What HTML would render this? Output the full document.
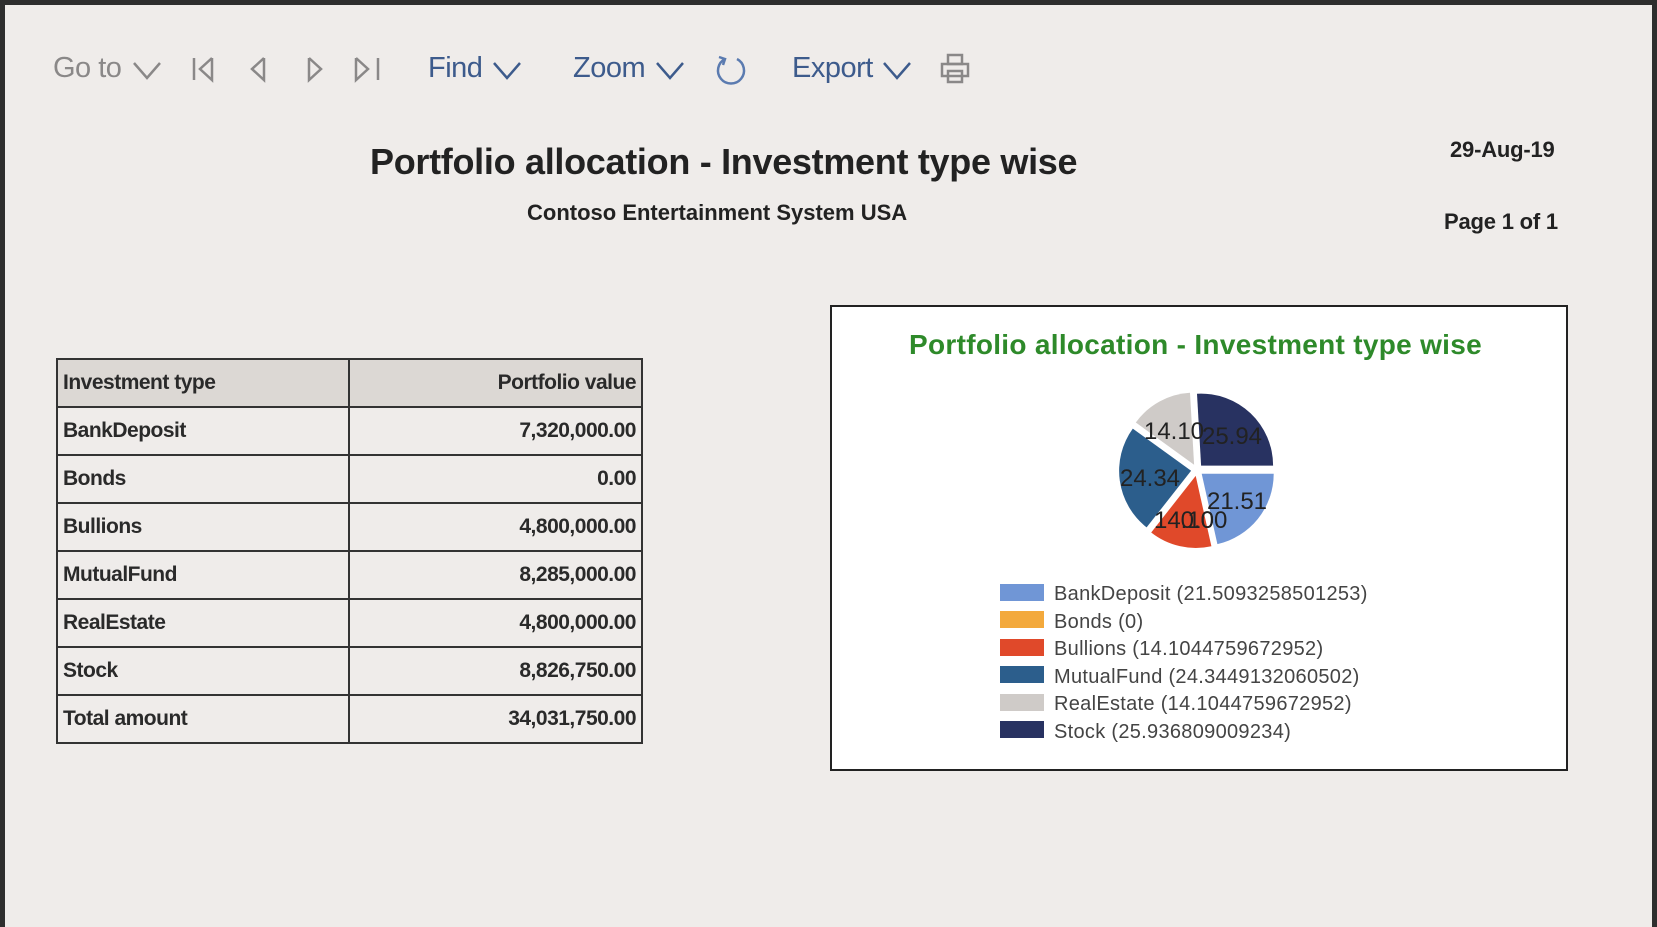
<!DOCTYPE html>
<html><head><meta charset="utf-8"><style>
body{margin:0;width:1657px;height:927px;background:#2e2e2e;overflow:hidden;font-family:"Liberation Sans",sans-serif;position:relative}
#pg{position:absolute;left:5px;top:5px;width:1647px;height:922px;background:#efecea}
.a{position:absolute;white-space:nowrap}
.tb{font-size:29px;top:52px;letter-spacing:-0.5px}
table{position:absolute;left:56px;top:358px;border-collapse:collapse;font-size:21px;font-weight:bold;color:#2a2a2a;letter-spacing:-0.5px}
td{border:2.5px solid #333;height:46px;padding:0 5px}
td:first-child{width:280px}td:last-child{width:281px;text-align:right}
tr.h td{background:#dcd8d4}
</style></head><body><div id="pg"></div>
<div class="a tb" style="left:53px;color:#8a8888">Go to</div>
<div class="a tb" style="left:428px;color:#3d5b8c">Find</div>
<div class="a tb" style="left:573px;color:#3d5b8c">Zoom</div>
<div class="a tb" style="left:792px;color:#3d5b8c">Export</div>
<svg class="a" style="left:0;top:0" width="1000" height="100" fill="none" stroke-width="2.5">
<g stroke="#8a8888">
<polyline points="134,63 147,78 160,63"/>
<line x1="194" y1="58" x2="194" y2="80"/><polyline points="212,58 200,69 212,80 212,58"/>
<polyline points="264,58 252,69 264,80 264,58"/>
<polyline points="309,58 321,69 309,80 309,58"/>
<polyline points="356,58 368,69 356,80 356,58"/><line x1="378" y1="58" x2="378" y2="80"/>
</g>
<g stroke="#3d5b8c">
<polyline points="494,63 507,78 520,63"/>
<polyline points="657,63 670,78 683,63"/>
<polyline points="884,63 897,78 910,63"/>
</g>
</svg>
<svg class="a" style="left:713px;top:53px" width="36" height="36" fill="none" stroke="#5b7bb0" stroke-width="2.5"><path d="M12 6 A13 13 0 1 0 24 6"/><polyline points="6,4 12,6 10,12"/></svg>
<svg class="a" style="left:940px;top:53px" width="30" height="32" fill="none" stroke="#8a8888" stroke-width="2.5"><rect x="8" y="2" width="14" height="9"/><rect x="2" y="11" width="26" height="12"/><rect x="8" y="18" width="14" height="11"/></svg>
<div class="a" style="left:370px;top:141px;font-size:36px;font-weight:bold;color:#222;letter-spacing:-0.3px">Portfolio allocation - Investment type wise</div>
<div class="a" style="left:527px;top:200px;font-size:22px;font-weight:bold;color:#222;letter-spacing:0px">Contoso Entertainment System USA</div>
<div class="a" style="left:1450px;top:137px;font-size:22px;font-weight:bold;color:#222;letter-spacing:-0.2px">29-Aug-19</div>
<div class="a" style="left:1444px;top:209px;font-size:22px;font-weight:bold;color:#222;letter-spacing:-0.2px">Page 1 of 1</div>
<table>
<tr class="h"><td>Investment type</td><td>Portfolio value</td></tr>
<tr><td>BankDeposit</td><td>7,320,000.00</td></tr>
<tr><td>Bonds</td><td>0.00</td></tr>
<tr><td>Bullions</td><td>4,800,000.00</td></tr>
<tr><td>MutualFund</td><td>8,285,000.00</td></tr>
<tr><td>RealEstate</td><td>4,800,000.00</td></tr>
<tr><td>Stock</td><td>8,826,750.00</td></tr>
<tr><td>Total amount</td><td>34,031,750.00</td></tr>
</table>
<div class="a" style="left:830px;top:305px;width:734px;height:462px;background:#fff;border:2.5px solid #222"></div>
<div class="a" style="left:909px;top:329px;font-size:28px;font-weight:bold;color:#2e8a2a;letter-spacing:0.3px">Portfolio allocation - Investment type wise</div>
<svg class="a" style="left:0;top:0" width="1657" height="927">
<path d="M1201.7,473.8 L1273.7,473.8 A72,72 0 0 1 1217.4,544.1 Z" fill="#7096d6"/>
<path d="M1195.7,475.9 L1211.4,546.2 A72,72 0 0 1 1151.2,532.5 Z" fill="#e0492a"/>
<path d="M1191.1,470.8 L1146.6,527.4 A72,72 0 0 1 1132.8,428.6 Z" fill="#2c5e8c"/>
<path d="M1194.1,464.7 L1135.8,422.5 A72,72 0 0 1 1190,392.8 Z" fill="#cfcbc8"/>
<path d="M1201.1,465.6 L1197,393.7 A72,72 0 0 1 1273.1,465.6 Z" fill="#283261"/>
<g font-size="24" fill="#222" text-anchor="middle" font-family="Liberation Sans">
<text x="1174" y="439">14.10</text><text x="1232" y="444">25.94</text>
<text x="1150" y="486">24.34</text><text x="1237" y="509">21.51</text>
<text x="1184" y="528">14.10</text><text x="1204" y="528">0.00</text>
</g>
<g font-size="20" fill="#444" font-family="Liberation Sans" letter-spacing="0.3">
<rect x="1000" y="584" width="44" height="17" fill="#7096d6"/><text x="1054" y="600">BankDeposit (21.5093258501253)</text>
<rect x="1000" y="611" width="44" height="17" fill="#f3a93c"/><text x="1054" y="628">Bonds (0)</text>
<rect x="1000" y="639" width="44" height="17" fill="#e0492a"/><text x="1054" y="655">Bullions (14.1044759672952)</text>
<rect x="1000" y="666" width="44" height="17" fill="#2c5e8c"/><text x="1054" y="683">MutualFund (24.3449132060502)</text>
<rect x="1000" y="694" width="44" height="17" fill="#cfcbc8"/><text x="1054" y="710">RealEstate (14.1044759672952)</text>
<rect x="1000" y="721" width="44" height="17" fill="#283261"/><text x="1054" y="738">Stock (25.936809009234)</text>
</g>
</svg>
</body></html>
